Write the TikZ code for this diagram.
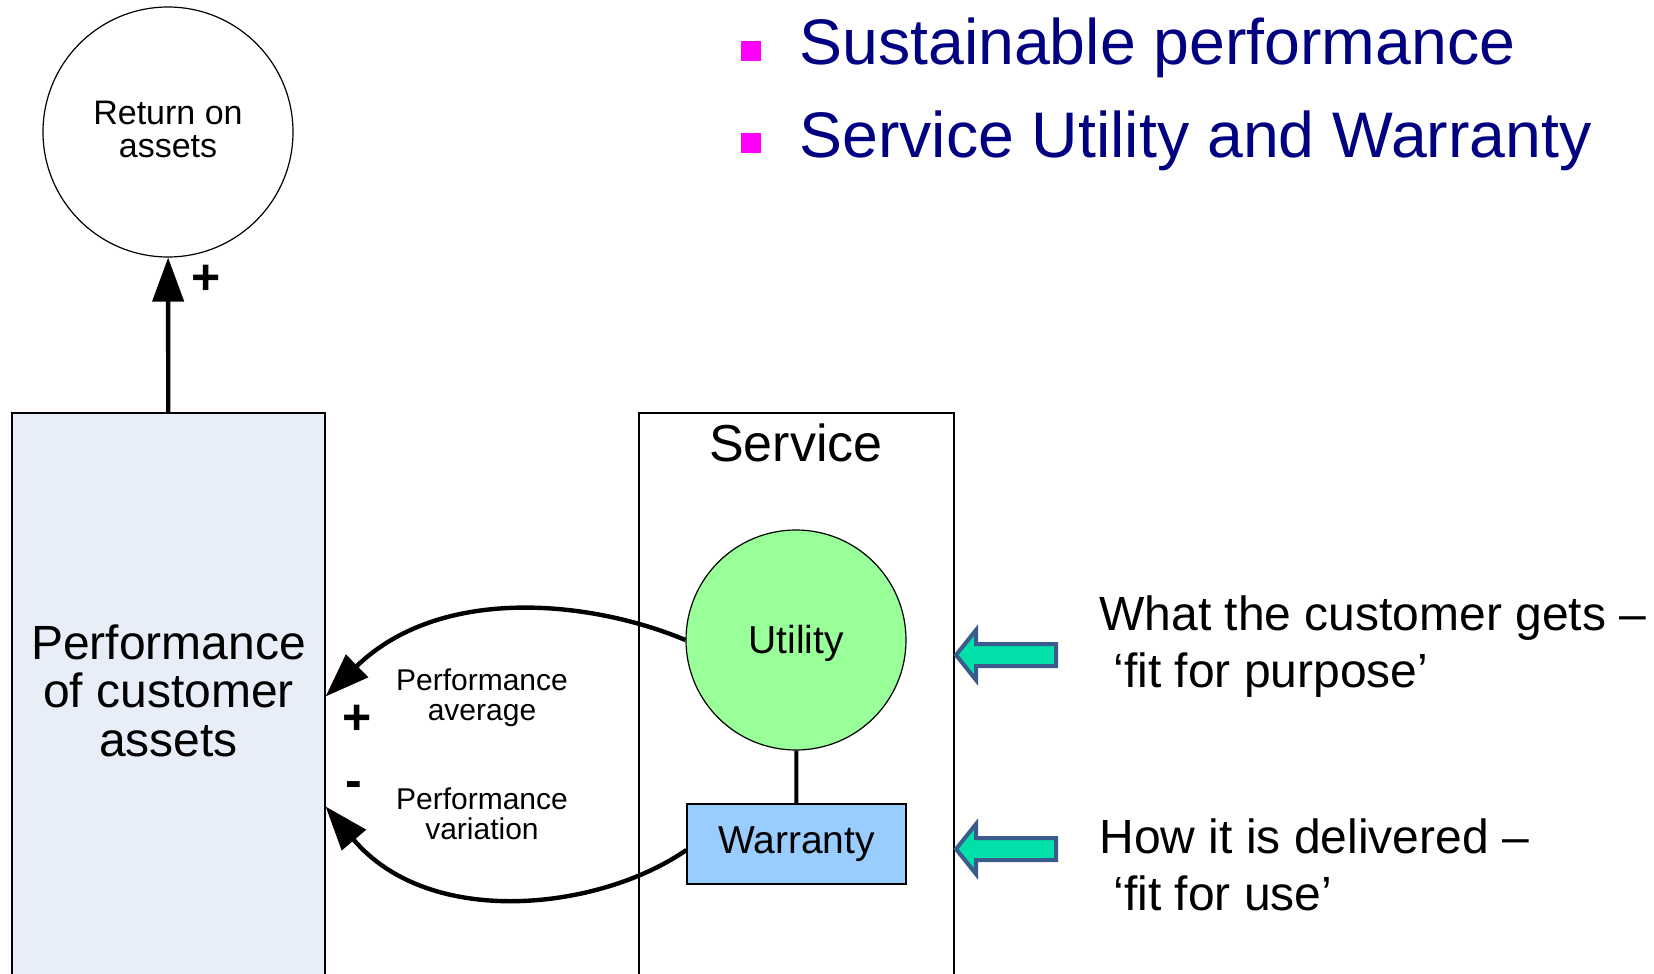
\documentclass[tikz,border=0pt]{standalone}
\usepackage{fontspec}
\setmainfont{Liberation Sans}
\usetikzlibrary{arrows.meta}
\tikzset{>={Triangle[length=22pt,width=15.5pt]}}
\definecolor{assetfill}{HTML}{E8EEF8}
\definecolor{utilfill}{HTML}{99FF99}
\definecolor{warrfill}{HTML}{99CCFF}
\definecolor{arrfill}{HTML}{00E0A8}
\definecolor{arrline}{HTML}{3B5B8C}
\definecolor{titleblue}{HTML}{000080}
\definecolor{bulletpink}{HTML}{FF00FF}
\tikzset{
  thinbox/.style={draw, line width=0.6pt, inner sep=0pt},
  flow/.style={->, line width=2.2pt},
  sign/.style={font=\fontsize{25pt}{25pt}\selectfont\bfseries, inner sep=0pt},
  smalltext/.style={font=\fontsize{15pt}{15pt}\selectfont, align=center},
  note/.style={font=\fontsize{24pt}{28pt}\selectfont, anchor=base west, inner sep=0pt},
  blockarrow/.style={fill=arrfill, draw=arrline, line width=2pt},
}
\begin{document}
\begin{tikzpicture}[x=0.5pt,y=-0.5pt]

  \useasboundingbox (0,0) rectangle (1654,974);

  %% headline bullets
  \foreach \y/\t [count=\i] in {65/Sustainable performance, 157/Service Utility and Warranty}{
    \fill[bulletpink] (741,\y-24) rectangle (761,\y-4);
    \node[anchor=base west, inner sep=0pt, text=titleblue, font=\fontsize{32.2pt}{36pt}\selectfont] (title\i) at (799,\y) {\t};
  }

  %% customer side
  \node[circle, thinbox, minimum size=125pt] (ret) at (168,132) {};
  \node[align=center, font=\fontsize{17pt}{16.5pt}\selectfont] (retlabel) at (168,129) {Return on\\assets};
  \node[thinbox, fill=assetfill, minimum width=156.5pt, minimum height=283.5pt] (perf) at (168.5,696.5) {};
  \node[align=center, font=\fontsize{24pt}{24.25pt}\selectfont] (perflabel) at (168.5,690.5) {Performance\\of customer\\assets};
  \draw[flow] (perf) -- (ret); %% perf -> ret
  \node[sign] (plusret) at (206,280) {+};

  %% service side
  \node[thinbox, minimum width=157.5pt, minimum height=283.5pt] (svc) at (796.5,696.5) {};
  \node[font=\fontsize{26pt}{26pt}\selectfont] (svctitle) at (796,443) {Service};
  \node[circle, thinbox, fill=utilfill, minimum size=110pt] (utility) at (796,640) {};
  \node[font=\fontsize{19.5pt}{19.5pt}\selectfont] (utilitylabel) at (796,643) {Utility};
  \node[thinbox, fill=warrfill, minimum width=109.5pt, minimum height=40pt, font=\fontsize{19.5pt}{19.5pt}\selectfont] (warranty) at (796.5,844) {Warranty};
  \draw[line width=2pt] (utility) -- (warranty);

  \draw[flow] (utility.west) .. controls (590,600) and (440,585) .. (perf.east); %% utility -> perf
  \draw[flow] ([yshift=-3pt]warranty.west) .. controls (600,910) and (430,930) .. ([yshift=-55pt]perf.east); %% warranty -> perf

  \node[smalltext] (avg) at (482,698) {Performance\\average};
  \node[smalltext] (var) at (482,814) {Performance\\variation};
  \node[sign] (plusavg) at (357,720) {+};
  \node[sign] (minusvar) at (354,790) {-};

  %% block arrows and notes
  \foreach \y in {655,849}
    \draw[blockarrow] (956,\y) -- (976,\y-25) -- (976,\y-11) -- (1056,\y-11) -- (1056,\y+11) -- (976,\y+11) -- (976,\y+25) -- cycle;

  \node[note] (getsA) at (1099,630) {What the customer gets –};
  \node[note] (getsB) at (1113,687) {‘fit for purpose’};
  \node[note] (delivA) at (1099,853) {How it is delivered –};
  \node[note] (delivB) at (1113,910) {‘fit for use’};

\end{tikzpicture}
\end{document}
